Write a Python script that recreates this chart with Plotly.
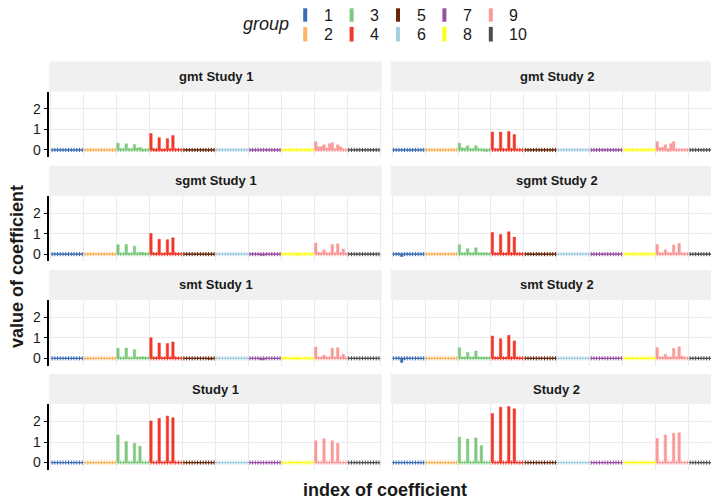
import plotly.graph_objects as go

# The page places the figure 8 px from the top-left corner of the window,
# so the figure is sized to fill the rest of the 719x499 window.
OFF = 8
W, H = 719 - OFF, 499 - OFF

GROUP_LABELS = ["1", "2", "3", "4", "5", "6", "7", "8", "9", "10"]
GROUP_COLORS = ["#3B6DB4", "#FDB462", "#7FC97F", "#F0392B", "#662506",
                "#A6CEE3", "#984EA3", "#FFFF1A", "#FB9A99", "#4D4D4D"]
N_PER_GROUP = 12

PANEL_TITLES = ["gmt Study 1", "gmt Study 2", "sgmt Study 1", "sgmt Study 2",
                "smt Study 1", "smt Study 2", "Study 1", "Study 2"]

Z = [0, 0, 0, 0, 0, 0, 0, 0, 0, 0, 0, 0]

gmt_study1 = [
    Z, Z,
    [0.33, 0.06, 0.04, 0.30, 0.06, 0.04, 0.26, 0.08, 0.12, -0.05, -0.04, 0.00],
    [0.80, 0.05, -0.05, 0.60, -0.04, -0.03, 0.55, 0.03, 0.70, 0.04, 0.03, 0.02],
    Z, Z, Z, Z,
    [0.40, 0.15, 0.15, 0.25, 0.08, 0.30, 0.35, 0.05, 0.25, 0.15, 0.02, 0.00],
    Z,
]
gmt_study2 = [
    Z, Z,
    [0.33, 0.10, 0.08, 0.20, 0.05, 0.05, 0.20, 0.05, 0.03, -0.05, -0.06, 0.00],
    [0.87, 0.05, 0.03, 0.87, 0.05, 0.03, 0.90, 0.05, 0.75, 0.03, 0.02, 0.00],
    Z, Z, Z, Z,
    [0.40, 0.12, 0.12, 0.25, -0.06, 0.30, 0.40, -0.03, 0.03, 0.02, 0.00, 0.00],
    Z,
]
sgmt_study1 = [
    Z, Z,
    [0.46, 0.03, 0.02, 0.47, 0.02, 0.02, 0.39, 0.03, 0.08, 0.08, 0.05, 0.02],
    [1.00, 0.05, 0.03, 0.73, -0.03, 0.03, 0.70, 0.03, 0.80, 0.04, 0.02, 0.02],
    Z, Z,
    [0, 0, 0, 0, -0.05, -0.06, 0, 0, 0, 0, 0, 0],
    [0.05, 0.03, 0, 0, 0, -0.05, -0.04, 0, 0, 0, 0, 0],
    [0.54, 0.08, 0.05, 0.20, 0.05, 0.05, 0.47, 0.05, 0.50, 0.05, 0.25, 0.02],
    Z,
]
sgmt_study2 = [
    [0, 0, 0.02, -0.12, -0.03, 0.02, 0, 0, 0, 0, 0, 0],
    Z,
    [0.46, 0.05, 0.05, 0.26, 0.05, 0.05, 0.31, 0.05, 0.05, 0.05, 0.05, 0.03],
    [1.06, 0.04, 0.04, 0.96, 0.04, 0.04, 1.09, 0.04, 0.83, 0.04, 0.03, 0.02],
    [0, 0.02, 0, -0.02, 0, 0.02, 0, -0.02, 0, 0, 0, 0],
    Z, Z, Z,
    [0.47, 0.05, 0.05, 0.21, 0.05, 0.05, 0.45, 0.05, 0.52, 0.05, 0.03, 0.02],
    Z,
]
smt_study1 = [
    Z,
    [-0.03, -0.03, 0, 0, 0, 0, 0, 0, 0, 0, 0, 0],
    [0.49, 0.03, 0.02, 0.50, 0.02, 0.02, 0.42, 0.03, 0.06, 0.06, 0.04, 0.02],
    [1.00, 0.05, 0.03, 0.75, 0.03, 0.03, 0.72, 0.03, 0.80, 0.04, 0.02, 0.02],
    [0, 0, 0, 0, 0, 0, 0, 0, 0, -0.04, -0.04, 0],
    Z,
    [0, 0, 0, 0, -0.07, -0.07, 0, 0, 0, 0, 0, 0],
    [0, 0.06, 0, 0, 0, -0.06, -0.03, 0, 0, 0, 0, 0],
    [0.55, 0.05, 0.05, 0.15, 0.04, 0.04, 0.50, 0.04, 0.52, 0.04, 0.20, 0.02],
    Z,
]
smt_study2 = [
    [0, 0, 0.02, -0.20, -0.04, 0.02, 0, 0, 0, 0, 0, 0],
    Z,
    [0.52, 0.05, 0.05, 0.29, 0.05, 0.05, 0.36, 0.05, 0.05, 0.05, 0.04, 0.03],
    [1.09, 0.04, 0.04, 0.96, 0.04, 0.04, 1.12, 0.04, 0.85, 0.04, 0.03, 0.02],
    Z, Z, Z, Z,
    [0.52, 0.05, 0.05, 0.20, 0.05, 0.05, 0.49, 0.05, 0.57, 0.10, 0.03, 0.02],
    Z,
]
true_study1 = [
    Z, Z,
    [1.34, 0, 0, 1.03, 0, 0, 0.94, 0, 0.80, 0, 0, 0],
    [2.03, 0, 0, 2.15, 0, 0, 2.27, 0, 2.18, 0, 0, 0],
    Z, Z, Z, Z,
    [1.06, 0, 0, 1.16, 0, 0, 1.06, 0, 0.94, 0, 0, 0],
    Z,
]
true_study2 = [
    Z, Z,
    [1.24, 0, 0, 1.15, 0, 0, 1.20, 0, 0.83, 0, 0, 0],
    [2.39, 0, 0, 2.70, 0, 0, 2.73, 0, 2.62, 0, 0, 0],
    Z, Z, Z, Z,
    [1.17, 0, 0, 1.35, 0, 0, 1.43, 0, 1.45, 0, 0, 0],
    Z,
]

PANEL_DATA = [gmt_study1, gmt_study2, sgmt_study1, sgmt_study2,
              smt_study1, smt_study2, true_study1, true_study2]

Y_TICKS = [0, 1, 2]
Y_RANGE = [-0.35, 2.85]
X_RANGE_FULL = [0, 121]

# ---------------- layout geometry (window pixels) ----------------
COL_LEFT = [49.3, 390.7]
PANEL_W = 332.4
ROW_PITCH = 104.2
STRIP_TOP0 = 61.5
STRIP_H = 30.0
PANEL_H = 65.6
WIN_W = 719


def px_x(x):
    return (x - OFF) / W


def px_y(y):
    return 1 - (y - OFF) / H


fig = go.Figure()
layout = dict(
    width=W, height=H,
    margin=dict(l=0, r=0, t=0, b=0),
    paper_bgcolor="white", plot_bgcolor="white",
    showlegend=False, barmode="overlay",
    font=dict(family="Liberation Sans, Arial, sans-serif", color="#1a1a1a"),
)
shapes = []
annotations = []

boundaries = [0.5 + N_PER_GROUP * k for k in range(11)]

for p in range(8):
    row, col = divmod(p, 2)
    n = p + 1
    xa = "x" if n == 1 else f"x{n}"
    ya = "y" if n == 1 else f"y{n}"
    strip_top = STRIP_TOP0 + ROW_PITCH * row
    ptop = strip_top + STRIP_H
    pbot = ptop + PANEL_H
    left = COL_LEFT[col]
    right = left + PANEL_W
    vis_right = min(right, WIN_W)
    xr = [X_RANGE_FULL[0],
          X_RANGE_FULL[0] + (X_RANGE_FULL[1] - X_RANGE_FULL[0]) * (vis_right - left) / PANEL_W]

    layout["xaxis" if n == 1 else f"xaxis{n}"] = dict(
        domain=[px_x(left), min(1.0, px_x(vis_right))], range=xr, anchor=ya,
        tickvals=boundaries, showticklabels=False, ticks="",
        showgrid=True, gridcolor="#EBEBEB", gridwidth=1.2,
        zeroline=False, showline=False, fixedrange=True,
    )
    yax = dict(
        domain=[px_y(pbot), px_y(ptop)], range=Y_RANGE, anchor=xa,
        tickvals=Y_TICKS, showgrid=True, gridcolor="#EBEBEB", gridwidth=1.2,
        zeroline=False, fixedrange=True,
    )
    if col == 0:
        yax.update(showline=True, linecolor="black", linewidth=1.5,
                   ticks="outside", ticklen=4, tickwidth=1.2, tickcolor="black",
                   showticklabels=True, tickfont=dict(size=14, color="#1a1a1a"))
    else:
        yax.update(showline=False, showticklabels=False, ticks="")
    layout["yaxis" if n == 1 else f"yaxis{n}"] = yax

    # strip
    shapes.append(dict(type="rect", xref="paper", yref="paper",
                       x0=px_x(left), x1=min(1.0, px_x(vis_right)),
                       y0=px_y(ptop), y1=px_y(strip_top),
                       fillcolor="#F0F0F0", line=dict(width=0), layer="below"))
    annotations.append(dict(text=f"<b>{PANEL_TITLES[p]}</b>", xref="paper", yref="paper",
                            x=px_x((left + right) / 2), y=px_y(strip_top + STRIP_H / 2),
                            xanchor="center", yanchor="middle", showarrow=False,
                            font=dict(size=13, color="#1a1a1a")))

    data = PANEL_DATA[p]
    for g in range(10):
        xs = [g * N_PER_GROUP + i + 1 for i in range(N_PER_GROUP)]
        vals = data[g]
        color = GROUP_COLORS[g]
        fig.add_trace(go.Scatter(
            x=xs, y=[0] * len(xs), xaxis=xa, yaxis=ya, mode="lines+markers",
            line=dict(color=color, width=1.3),
            marker=dict(symbol="line-ns", size=3, line=dict(color=color, width=1.0)),
            hoverinfo="skip"))
        fig.add_trace(go.Bar(
            x=xs, y=vals, xaxis=xa, yaxis=ya, width=0.9,
            marker=dict(color=color, line=dict(color=color, width=0.5)),
            name=GROUP_LABELS[g]))

# ---------------- manual legend ----------------
annotations.append(dict(text="<i>group</i>", xref="paper", yref="paper",
                        x=px_x(266), y=px_y(24), xanchor="center", yanchor="middle",
                        showarrow=False, font=dict(size=18, color="#1a1a1a")))
KEY_X0 = 305.2
KEY_DX = 46.4
ROW_KEY = [(8.3, 21.7), (26.9, 41.5)]
ROW_TXT = [15.5, 34.5]
for g in range(10):
    c, r = divmod(g, 2)
    kx = KEY_X0 + KEY_DX * c
    y0, y1 = ROW_KEY[r]
    shapes.append(dict(type="rect", xref="paper", yref="paper",
                       x0=px_x(kx - 2), x1=px_x(kx + 2),
                       y0=px_y(y1), y1=px_y(y0),
                       fillcolor=GROUP_COLORS[g], line=dict(width=0)))
    annotations.append(dict(text=GROUP_LABELS[g], xref="paper", yref="paper",
                            x=px_x(kx + 16.5), y=px_y(ROW_TXT[r]),
                            xanchor="left", yanchor="middle", showarrow=False,
                            font=dict(size=16, color="#1a1a1a")))

# axis titles
annotations.append(dict(text="<b>index of coefficient</b>", xref="paper", yref="paper",
                        x=px_x(385), y=px_y(490), xanchor="center", yanchor="middle",
                        showarrow=False, font=dict(size=18, color="#1a1a1a")))
annotations.append(dict(text="<b>value of coefficient</b>", xref="paper", yref="paper",
                        x=px_x(17), y=px_y(267), xanchor="center", yanchor="middle",
                        textangle=-90, showarrow=False, font=dict(size=18, color="#1a1a1a")))

layout["shapes"] = shapes
layout["annotations"] = annotations
fig.update_layout(**layout)
fig.write_html("out.html")
